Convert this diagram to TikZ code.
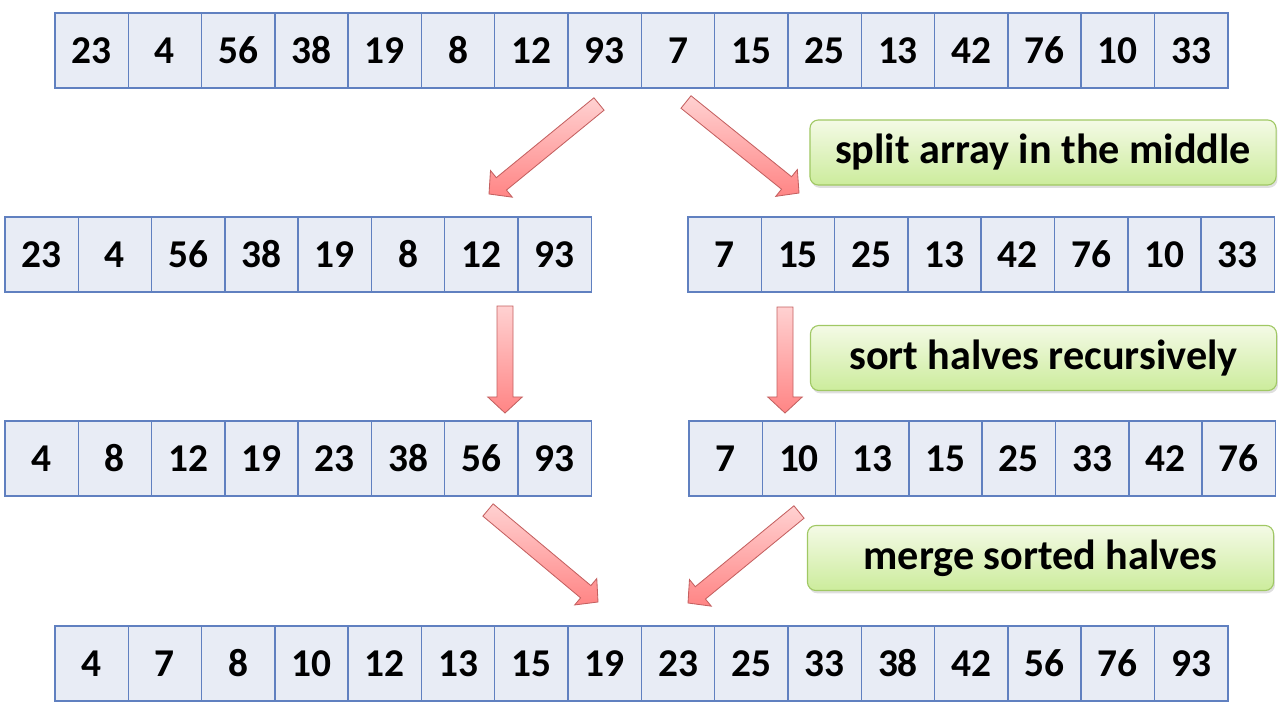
\documentclass[tikz,border=0pt]{standalone}
\usepackage{fontspec}
\setmainfont{Carlito}
\usetikzlibrary{calc,shadows}

\definecolor{cellfill}{RGB}{232,236,245}
\definecolor{cellline}{RGB}{96,128,192}
\definecolor{arrowline}{RGB}{196,96,96}
\definecolor{notetop}{RGB}{244,250,230}
\definecolor{notebot}{RGB}{204,236,156}
\definecolor{noteline}{RGB}{160,200,100}

\tikzset{
  cell/.style={draw=cellline, fill=cellfill, line width=1pt,
    minimum width=1.833cm, minimum height=1.875cm, inner sep=0pt,
    font=\bfseries\fontsize{28}{28}\selectfont},
  note/.style={draw=noteline, rounded corners=6pt, line width=0.8pt,
    top color=notetop, bottom color=notebot,
    minimum width=11.65cm, minimum height=1.625cm,
    drop shadow={opacity=0.25, shadow xshift=1pt, shadow yshift=-2pt},
    font=\bfseries\fontsize{30}{30}\selectfont},
  bigarrow/.style={draw=arrowline, line width=0.6pt, line join=miter,
    top color=red!18, bottom color=red!48}
}

% block arrow from tail #1 to tip #2
\newcommand{\blockarrow}[3]{%
  \coordinate (hb) at ($(#2)!0.4cm!(#1)$);
  \path[bigarrow, shading angle=#3]
    ($(#1)!0.2cm!90:(#2)$) -- ($(hb)!0.2cm!-90:(#1)$) -- ($(hb)!0.43cm!-90:(#1)$)
    -- (#2) -- ($(hb)!0.43cm!90:(#1)$) -- ($(hb)!0.2cm!90:(#1)$)
    -- ($(#1)!0.2cm!-90:(#2)$) -- cycle;
}

\begin{document}
\begin{tikzpicture}[x=0.025cm, y=-0.025cm]
  \useasboundingbox (0,0) rectangle (1280,722);

  % unsorted array
  \foreach \v [count=\i] in {23,4,56,38,19,8,12,93,7,15,25,13,42,76,10,33}
    \node[cell] (top\i) at ({55+73.3*(\i-0.5)},50.5) {\v};

  % the two halves
  \foreach \v [count=\i] in {23,4,56,38,19,8,12,93}
    \node[cell] (left\i) at ({5+73.3*(\i-0.5)},254.5) {\v};
  \foreach \v [count=\i] in {7,15,25,13,42,76,10,33}
    \node[cell] (right\i) at ({688+73.3*(\i-0.5)},254.5) {\v};

  % sorted halves
  \foreach \v [count=\i] in {4,8,12,19,23,38,56,93}
    \node[cell] (sleft\i) at ({5+73.3*(\i-0.5)},458.5) {\v};
  \foreach \v [count=\i] in {7,10,13,15,25,33,42,76}
    \node[cell] (sright\i) at ({689+73.3*(\i-0.5)},458.5) {\v};

  % merged result
  \foreach \v [count=\i] in {4,7,8,10,12,13,15,19,23,25,33,38,42,56,76,93}
    \node[cell] (merged\i) at ({55+73.3*(\i-0.5)},663.5) {\v};

  % notes
  \node[note] (split) at (1043,152.5) {split array in the middle};
  \node[note] (sort) at (1043.5,358) {sort halves recursively};
  \node[note] (merge) at (1040.5,558) {merge sorted halves};

  % arrows
  \coordinate (splitL0) at (599,104);  \coordinate (splitL1) at (489,194);
  \coordinate (splitR0) at (686,102);  \coordinate (splitR1) at (799,193);
  \coordinate (sortL0) at (505,306);   \coordinate (sortL1) at (505,413);
  \coordinate (sortR0) at (785,307);   \coordinate (sortR1) at (785,413);
  \coordinate (mergeL0) at (488,510);  \coordinate (mergeL1) at (598,602);
  \coordinate (mergeR0) at (799,512);  \coordinate (mergeR1) at (688,603);
  \blockarrow{splitL0}{splitL1}{0}
  \blockarrow{splitR0}{splitR1}{0}
  \blockarrow{sortL0}{sortL1}{0}
  \blockarrow{sortR0}{sortR1}{0}
  \blockarrow{mergeL0}{mergeL1}{0}
  \blockarrow{mergeR0}{mergeR1}{0}
\end{tikzpicture}
\end{document}
